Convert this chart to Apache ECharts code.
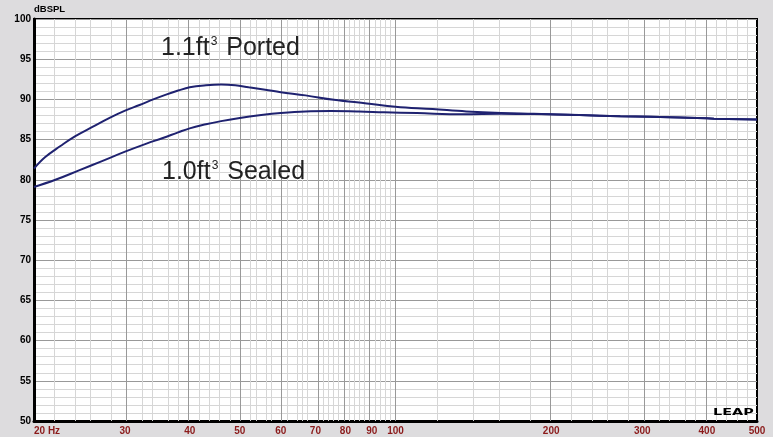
<!DOCTYPE html>
<html><head><meta charset="utf-8">
<script src="https://cdn.jsdelivr.net/npm/echarts@6/dist/echarts.min.js"></script>
<style>html,body{margin:0;padding:0;background:#dddcde}#c{width:773px;height:437px}</style>
</head><body><div id="c"></div>
<script>
// Frequency response data (Hz, dBSPL)
const portedFreq = [20, 21, 22.5, 24, 26, 28, 30, 32, 34, 36, 38, 40, 43, 46, 49, 52, 56, 60, 67, 76, 88, 100, 118, 137, 160, 185, 227, 272, 355, 413, 500];
const portedDb   = [81.4, 82.8, 84.2, 85.4, 86.6, 87.7, 88.6, 89.3, 90.0, 90.6, 91.1, 91.5, 91.75, 91.85, 91.75, 91.5, 91.2, 90.9, 90.5, 89.95, 89.5, 89.1, 88.8, 88.5, 88.3, 88.2, 88.05, 87.9, 87.75, 87.6, 87.5];
const sealedFreq = [20, 22, 24.5, 27, 30, 33, 35.5, 38, 40, 43, 46, 50, 55, 60, 67, 75, 85, 95, 110, 135, 160, 185, 227, 272, 355, 413, 500];
const sealedDb   = [79.1, 80.0, 81.2, 82.3, 83.5, 84.5, 85.2, 85.9, 86.4, 86.9, 87.3, 87.7, 88.05, 88.3, 88.5, 88.55, 88.5, 88.4, 88.3, 88.15, 88.2, 88.18, 88.05, 87.9, 87.75, 87.6, 87.5];

// Axis ticks / grid
const xTickHz = [20, 30, 40, 50, 60, 70, 80, 90, 100, 200, 300, 400, 500];
const xMajorGridHz = [30, 40, 50, 60, 70, 80, 90, 100, 200, 300, 400];
const xMinorGridHz = [22, 24, 26, 28, 32, 34, 36, 38, 42, 44, 46, 48, 52, 54, 56, 58,
  62, 64, 66, 68, 72, 74, 76, 78, 82, 84, 86, 88, 92, 94, 96, 98,
  120, 140, 160, 180, 220, 240, 260, 280, 320, 340, 360, 380, 420, 440, 460, 480];
const yMin = 50, yMax = 100, yStep = 5;

const lg = Math.log10;
const chart = echarts.init(document.getElementById('c'), null, {renderer: 'canvas'});

function gridLines(list, color) {
  return {
    type: 'line', data: [], silent: true, z: 1,
    markLine: {
      silent: true, animation: false, symbol: ['none', 'none'],
      label: {show: false}, emphasis: {disabled: true},
      lineStyle: {color: color, width: 1, type: 'solid'},
      data: list.map(f => ({xAxis: lg(f)}))
    }
  };
}

const curveStyle = {color: '#1f2270', width: 2};
const richText = {
  a: {fontSize: 25, fontFamily: 'Liberation Sans', fill: '#222'},
  s: {fontSize: 12, fontFamily: 'Liberation Sans', fill: '#222', verticalAlign: 'top', padding: [0, 2, 0, 1]}
};

chart.setOption({
  animation: false,
  backgroundColor: '#dddcde',
  grid: {left: 34, right: 16, top: 19, bottom: 16, show: true, backgroundColor: '#ffffff', borderColor: '#000', borderWidth: 2},
  xAxis: {
    type: 'value', min: lg(20), max: lg(500),
    axisLine: {show: true, onZero: false, lineStyle: {color: '#000', width: 3}},
    axisTick: {show: false, customValues: xTickHz.map(lg)},
    axisLabel: {
      customValues: xTickHz.map(lg),
      formatter: v => { const f = Math.round(Math.pow(10, v)); return f === 20 ? '20 Hz' : String(f); },
      color: '#8b1a1a', fontWeight: 'bold', fontSize: 10, fontFamily: 'Liberation Sans', margin: 5,
      alignMinLabel: 'left'
    },
    splitLine: {show: false}
  },
  yAxis: {
    type: 'value', min: yMin, max: yMax, interval: yStep,
    name: 'dBSPL', nameLocation: 'end', nameGap: 3,
    nameTextStyle: {color: '#000', fontWeight: 'bold', fontSize: 9.5, fontFamily: 'Liberation Sans', align: 'left', verticalAlign: 'bottom'},
    axisLine: {show: true, lineStyle: {color: '#000', width: 3}},
    axisTick: {show: false},
    axisLabel: {color: '#000', fontWeight: 'bold', fontSize: 10, fontFamily: 'Liberation Sans', margin: 3},
    splitLine: {show: true, lineStyle: {color: '#999999', width: 1}},
    minorTick: {show: false, splitNumber: 5},
    minorSplitLine: {show: true, lineStyle: {color: '#d6d6d6', width: 1}}
  },
  graphic: [
    {type: 'text', x: 161, y: 48, z: 100,
     style: {text: '{a|1.1ft}{s|3}{a| Ported}', verticalAlign: 'middle', rich: richText}},
    {type: 'text', x: 162, y: 172, z: 100,
     style: {text: '{a|1.0ft}{s|3}{a| Sealed}', verticalAlign: 'middle', rich: richText}},
    {type: 'text', x: 713, y: 409, z: 100, scaleX: 1.8,
     style: {text: 'LEAP', font: 'bold 8px "DejaVu Sans"', fill: '#000'}}
  ],
  series: [
    gridLines(xMinorGridHz, '#d6d6d6'),
    gridLines(xMajorGridHz, '#999999'),
    {type: 'line', name: '1.1ft3 Ported', z: 5, showSymbol: false, smooth: 0.4, lineStyle: curveStyle,
     data: portedFreq.map((f, i) => [lg(f), portedDb[i]])},
    {type: 'line', name: '1.0ft3 Sealed', z: 5, showSymbol: false, smooth: 0.4, lineStyle: curveStyle,
     data: sealedFreq.map((f, i) => [lg(f), sealedDb[i]])}
  ]
});
</script></body></html>
